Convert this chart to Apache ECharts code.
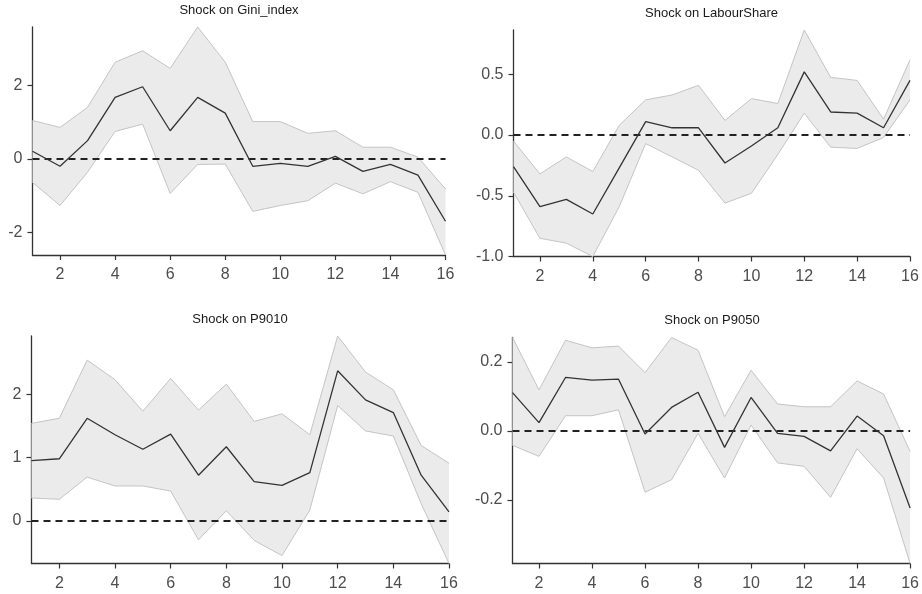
<!DOCTYPE html>
<html>
<head>
<meta charset="utf-8">
<script src="https://cdn.jsdelivr.net/npm/echarts@6/dist/echarts.min.js"></script>
<style>
html,body{margin:0;padding:0;background:#fff;}
#chart{width:922px;height:594px;}
</style>
</head>
<body>
<div id="chart"></div>
<script>
const steps = [1,2,3,4,5,6,7,8,9,10,11,12,13,14,15,16];
const xTicks = [2,4,6,8,10,12,14,16];

const titles = ['Shock on Gini_index','Shock on LabourShare','Shock on P9010','Shock on P9050'];

const giniMid = [0.21,-0.2,0.5,1.68,1.97,0.77,1.68,1.25,-0.2,-0.12,-0.2,0.07,-0.34,-0.15,-0.44,-1.7];
const giniUp  = [1.05,0.86,1.41,2.64,2.95,2.47,3.6,2.64,1.02,1.02,0.7,0.77,0.32,0.32,0.05,-0.82];
const giniLo  = [-0.64,-1.27,-0.36,0.75,0.95,-0.94,-0.15,-0.14,-1.43,-1.27,-1.14,-0.66,-0.95,-0.62,-0.91,-2.62];
const giniTicks = [-2,0,2];

const labMid = [-0.26,-0.59,-0.53,-0.65,-0.27,0.11,0.06,0.06,-0.23,-0.09,0.06,0.52,0.19,0.18,0.06,0.45];
const labUp  = [-0.05,-0.32,-0.18,-0.3,0.08,0.29,0.33,0.41,0.12,0.3,0.26,0.865,0.475,0.45,0.13,0.62];
const labLo  = [-0.47,-0.85,-0.89,-1.0,-0.59,-0.07,-0.18,-0.29,-0.56,-0.48,-0.16,0.18,-0.1,-0.11,-0.02,0.29];
const labTicks = [-1.0,-0.5,0,0.5];

const p9010Mid = [0.95,0.98,1.62,1.36,1.13,1.37,0.72,1.17,0.62,0.56,0.76,2.37,1.91,1.71,0.72,0.14];
const p9010Up  = [1.54,1.62,2.54,2.23,1.73,2.25,1.75,2.16,1.57,1.69,1.36,2.92,2.35,2.07,1.19,0.91];
const p9010Lo  = [0.36,0.34,0.69,0.55,0.55,0.47,-0.3,0.16,-0.31,-0.55,0.17,1.82,1.42,1.34,0.27,-0.675];
const p9010Ticks = [0,1,2];

const p9050Mid = [0.111,0.024,0.155,0.147,0.15,-0.009,0.068,0.112,-0.048,0.097,-0.007,-0.016,-0.058,0.043,-0.014,-0.224];
const p9050Up  = [0.271,0.119,0.263,0.241,0.246,0.169,0.271,0.234,0.041,0.176,0.078,0.07,0.07,0.145,0.107,-0.06];
const p9050Lo  = [-0.042,-0.074,0.044,0.044,0.061,-0.178,-0.142,-0.007,-0.137,0.017,-0.093,-0.103,-0.193,-0.052,-0.137,-0.385];
const p9050Ticks = [-0.2,0,0.2];

const panels = [
  {mid: giniMid, up: giniUp, lo: giniLo, ticks: giniTicks, dec: 0},
  {mid: labMid, up: labUp, lo: labLo, ticks: labTicks, dec: 1},
  {mid: p9010Mid, up: p9010Up, lo: p9010Lo, ticks: p9010Ticks, dec: 0},
  {mid: p9050Mid, up: p9050Up, lo: p9050Lo, ticks: p9050Ticks, dec: 1}
];

const grids = [
  {left: 32.5, top: 27, width: 413, height: 228},
  {left: 513.5, top: 30, width: 396.5, height: 226.5},
  {left: 31.5, top: 336, width: 417.5, height: 227.5},
  {left: 512.5, top: 337.5, width: 399, height: 226}
];
const titlePos = [
  {left: 239, top: 3.5},
  {left: 711.5, top: 7},
  {left: 240, top: 313},
  {left: 712, top: 314}
];

const FONT = '"Liberation Sans", Arial, sans-serif';
const axisColor = '#333';
const labelColor = '#4d4d4d';
const bandFill = '#ebebeb';
const bandEdge = '#c4c4c4';

const option = {
  animation: false,
  backgroundColor: '#fff',
  title: titles.map((t, i) => ({
    text: t, left: titlePos[i].left, top: titlePos[i].top, textAlign: 'center', padding: 0,
    textStyle: {fontFamily: FONT, fontSize: 13, fontWeight: 'normal', color: '#1a1a1a'}
  })),
  grid: grids.map(g => Object.assign({containLabel: false}, g)),
  xAxis: panels.map((p, i) => ({
    type: 'value', gridIndex: i, min: 1, max: 16,
    axisLine: {show: true, onZero: false, lineStyle: {color: axisColor, width: 1.3}},
    axisTick: {show: true, length: 5, customValues: xTicks, lineStyle: {color: axisColor, width: 1.2}},
    axisLabel: {customValues: xTicks, margin: 12, color: labelColor, fontFamily: FONT, fontSize: 16},
    splitLine: {show: false}
  })),
  yAxis: panels.map((p, i) => ({
    type: 'value', gridIndex: i,
    min: v => v.min, max: v => v.max,
    axisLine: {show: true, onZero: false, lineStyle: {color: axisColor, width: 1.3}},
    axisTick: {show: true, length: 5, customValues: p.ticks, lineStyle: {color: axisColor, width: 1.2}},
    axisLabel: {customValues: p.ticks, margin: 10, color: labelColor, fontFamily: FONT, fontSize: 16,
      formatter: v => Number(v).toFixed(p.dec)},
    splitLine: {show: false}
  })),
  series: []
};

panels.forEach((p, i) => {
  // confidence band polygon, drawn once via the axis scales
  option.series.push({
    type: 'custom', xAxisIndex: i, yAxisIndex: i, z: 1, silent: true,
    data: steps.map((s, k) => [s, p.lo[k], p.up[k]]),
    encode: {x: 0, y: [1, 2]},
    renderItem: function (params, api) {
      if (params.dataIndex !== 0) return null;
      const pts = [];
      for (let k = 0; k < steps.length; k++) pts.push(api.coord([steps[k], p.up[k]]));
      for (let k = steps.length - 1; k >= 0; k--) pts.push(api.coord([steps[k], p.lo[k]]));
      return {type: 'polygon', shape: {points: pts}, style: {fill: bandFill, stroke: null}};
    }
  });
  option.series.push({
    type: 'line', xAxisIndex: i, yAxisIndex: i,
    data: steps.map((s, k) => [s, p.up[k]]),
    symbol: 'none', lineStyle: {color: bandEdge, width: 1}, z: 2, silent: true
  });
  option.series.push({
    type: 'line', xAxisIndex: i, yAxisIndex: i,
    data: steps.map((s, k) => [s, p.lo[k]]),
    symbol: 'none', lineStyle: {color: bandEdge, width: 1}, z: 2, silent: true
  });
  option.series.push({
    type: 'line', xAxisIndex: i, yAxisIndex: i,
    data: steps.map((s, k) => [s, p.mid[k]]),
    symbol: 'none', lineStyle: {color: '#333', width: 1.3}, z: 4, silent: true,
    markLine: {
      silent: true, symbol: 'none', label: {show: false}, z: 3,
      lineStyle: {color: '#222', type: [7, 5], width: 1.8},
      data: [{yAxis: 0}]
    }
  });
});

const chart = echarts.init(document.getElementById('chart'), null, {renderer: 'canvas'});
chart.setOption(option);
</script>
</body>
</html>
